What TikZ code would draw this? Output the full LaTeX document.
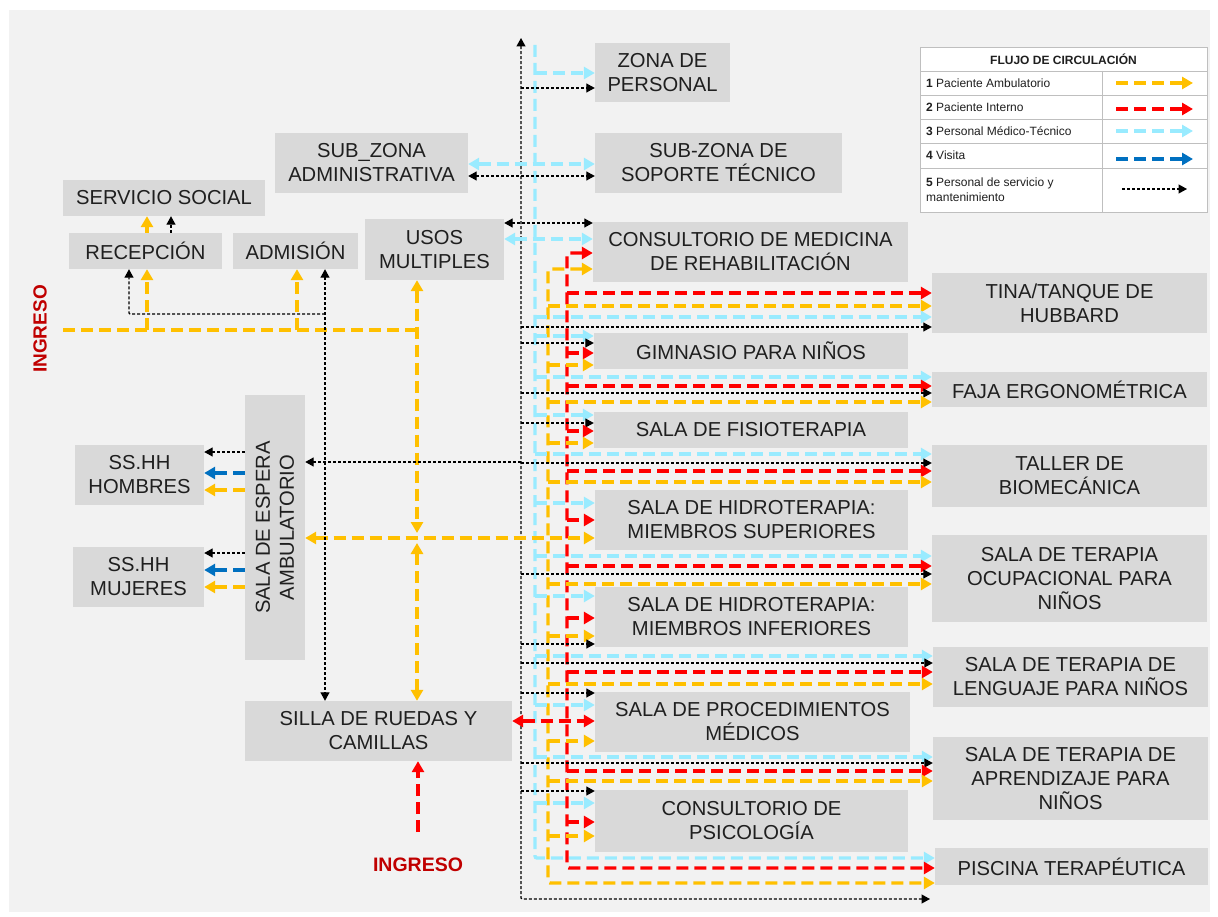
\documentclass[tikz,border=0pt]{standalone}
\usepackage{fontspec}
\setmainfont{Liberation Sans}
\usetikzlibrary{arrows.meta}
\definecolor{bg}{HTML}{F2F2F2}
\definecolor{boxg}{HTML}{D9D9D9}
\definecolor{txt}{HTML}{1F1F1F}
\definecolor{yel}{HTML}{FFC000}
\definecolor{rdc}{HTML}{FF0000}
\definecolor{cyn}{HTML}{99EBFF}
\definecolor{blu}{HTML}{0070C0}
\definecolor{ingc}{HTML}{C00000}
\definecolor{legl}{HTML}{BFBFBF}
\newcommand\bxfont{\fontsize{20.2}{24}\selectfont}
\newcommand\lgfont{\fontsize{12}{15}\selectfont}
\begin{document}
\begin{tikzpicture}[x=1pt,y=-1pt,
  box/.style={fill=boxg, inner sep=0pt, align=center, text=txt, font=\bxfont},
  flowline/.style={line width=3.4pt, dash pattern=on 12pt off 6pt, rounded corners=2pt, >={Triangle[length=11pt,width=12pt]}},
  yl/.style={flowline, draw=yel},
  rd/.style={flowline, draw=rdc},
  cy/.style={flowline, draw=cyn},
  bl/.style={flowline, draw=blu},
  bk/.style={line width=1.3pt, dash pattern=on 3pt off 2pt, draw=black, rounded corners=1pt, >={Triangle[length=8.5pt,width=9pt]}},
  lgtxt/.style={anchor=west, inner sep=0pt, text=txt, font=\lgfont, align=left}
]
\useasboundingbox (0,0) rectangle (1218,917);
\fill[white] (0,0) rectangle (1218,917);
\fill[bg] (9,10) rectangle (1210,912);

% boxes
\node[box, minimum width=135pt, minimum height=59pt] (zona) at (662.5,72.5) {ZONA DE\\PERSONAL};
\node[box, minimum width=247pt, minimum height=60pt] (soporte) at (718.5,163) {SUB-ZONA DE\\SOPORTE TÉCNICO};
\node[box, minimum width=193pt, minimum height=60pt] (admin) at (371.5,163) {SUB\_ZONA\\ADMINISTRATIVA};
\node[box, minimum width=202pt, minimum height=36pt] (social) at (164,198) {SERVICIO SOCIAL};
\node[box, minimum width=153pt, minimum height=36pt] (recep) at (145.5,251) {RECEPCIÓN};
\node[box, minimum width=125pt, minimum height=36pt] (admis) at (295.5,251) {ADMISIÓN};
\node[box, minimum width=139pt, minimum height=61pt] (usos) at (434.5,249.5) {USOS\\MULTIPLES};
\node[box, minimum width=315pt, minimum height=60pt] (consult) at (750.5,252) {CONSULTORIO DE MEDICINA\\DE REHABILITACIÓN};
\node[box, minimum width=314pt, minimum height=36pt] (gimn) at (751,351) {GIMNASIO PARA NIÑOS};
\node[box, minimum width=314pt, minimum height=36pt] (fisio) at (751,430) {SALA DE FISIOTERAPIA};
\node[box, minimum width=313pt, minimum height=60pt] (hsup) at (751.5,520) {SALA DE HIDROTERAPIA:\\MIEMBROS SUPERIORES};
\node[box, minimum width=313pt, minimum height=60pt] (hinf) at (751.5,617) {SALA DE HIDROTERAPIA:\\MIEMBROS INFERIORES};
\node[box, minimum width=315pt, minimum height=60pt] (proc) at (752.5,722) {SALA DE PROCEDIMIENTOS\\MÉDICOS};
\node[box, minimum width=313pt, minimum height=62pt] (psico) at (751.5,821) {CONSULTORIO DE\\PSICOLOGÍA};
\node[box, minimum width=275pt, minimum height=60pt] (tina) at (1069.5,303) {TINA/TANQUE DE\\HUBBARD};
\node[box, minimum width=275pt, minimum height=35pt] (faja) at (1069.5,389.5) {FAJA ERGONOMÉTRICA};
\node[box, minimum width=275pt, minimum height=62pt] (taller) at (1069.5,476) {TALLER DE\\BIOMECÁNICA};
\node[box, minimum width=275pt, minimum height=87pt] (ocup) at (1069.5,578.5) {SALA DE TERAPIA\\OCUPACIONAL PARA\\NIÑOS};
\node[box, minimum width=275pt, minimum height=60pt] (leng) at (1070.5,677) {SALA DE TERAPIA DE\\LENGUAJE PARA NIÑOS};
\node[box, minimum width=275pt, minimum height=83pt] (apren) at (1070.5,778.5) {SALA DE TERAPIA DE\\APRENDIZAJE PARA\\NIÑOS};
\node[box, minimum width=273pt, minimum height=37pt] (pisc) at (1071.5,866.5) {PISCINA TERAPÉUTICA};
\node[box, minimum width=129pt, minimum height=60pt] (hom) at (139.5,475) {SS.HH\\HOMBRES};
\node[box, minimum width=131pt, minimum height=60pt] (muj) at (138.5,577) {SS.HH\\MUJERES};
\node[box, minimum width=60pt, minimum height=265pt] (espera) at (275,527.5) {};
\node[rotate=90, align=center, text=txt, font=\bxfont, inner sep=0pt] (esperat) at (espera.center) {SALA DE ESPERA\\AMBULATORIO};
\node[box, minimum width=267pt, minimum height=60pt] (silla) at (378.5,731) {SILLA DE RUEDAS Y\\CAMILLAS};

% ingreso labels
\node[rotate=90, font=\fontsize{19}{22}\selectfont\bfseries, text=ingc, inner sep=0pt] (ing1) at (40,329) {INGRESO};
\node[font=\fontsize{19.5}{22}\selectfont\bfseries, text=ingc, inner sep=0pt] (ing2) at (418,865) {INGRESO};

% spines
\coordinate (bktop) at (521,38);
\coordinate (cytop) at (535,45);
\draw[bk,<->] (bktop) -- (521,899) -- (930,899);
\draw[cy,->] (cytop) -- (535,858) -- (pisc.west |- 0,858);
\draw[yl,<->] (consult.west |- 0,269) -- (548,269) -- (548,883) -- (pisc.west |- 0,883);
\draw[rd,<->] (consult.west |- 0,253) -- (567,253) -- (567,868) -- (pisc.west |- 0,868);

% zona de personal
\draw[cy,->] (535,73) -- (zona.west |- 0,73);
\draw[bk,->] (521,88) -- (zona.west |- 0,88);
% soporte / admin
\draw[cy,<->] (admin.east |- 0,164) -- (soporte.west |- 0,164);
\draw[bk,<->] (admin.east |- 0,176) -- (soporte.west |- 0,176);
% usos / consultorio
\draw[bk,<->] (usos.east |- 0,223) -- (consult.west |- 0,223);
\draw[cy,<->] (usos.east |- 0,239) -- (consult.west |- 0,239);

% tina
\draw[rd,->] (567,293) -- (tina.west |- 0,293);
\draw[yl,->] (548,306) -- (tina.west |- 0,306);
\draw[cy,->] (535,317) -- (tina.west |- 0,317);
\draw[bk,->] (521,327) -- (tina.west |- 0,327);
% gimnasio
\draw[cy,->] (535,336) -- (gimn.west |- 0,336);
\draw[bk,->] (521,343) -- (gimn.west |- 0,343);
\draw[rd,->] (567,353) -- (gimn.west |- 0,353);
\draw[yl,->] (548,365) -- (gimn.west |- 0,365);
% faja
\draw[cy,->] (535,377) -- (faja.west |- 0,377);
\draw[rd,->] (567,386) -- (faja.west |- 0,386);
\draw[bk,->] (521,393) -- (faja.west |- 0,393);
\draw[yl,->] (548,402) -- (faja.west |- 0,402);
% fisioterapia
\draw[cy,->] (535,415) -- (fisio.west |- 0,415);
\draw[bk,->] (521,423) -- (fisio.west |- 0,423);
\draw[rd,->] (567,431) -- (fisio.west |- 0,431);
\draw[yl,->] (548,443) -- (fisio.west |- 0,443);
% taller
\draw[cy,->] (535,454) -- (taller.west |- 0,454);
\draw[bk,->] (521,463) -- (taller.west |- 0,463);
\draw[rd,->] (567,471) -- (taller.west |- 0,471);
\draw[yl,->] (548,482) -- (taller.west |- 0,482);
% hidro sup
\draw[cy,->] (535,503) -- (hsup.west |- 0,503);
\draw[rd,->] (567,520) -- (hsup.west |- 0,520);
\draw[yl,<->] (espera.east |- 0,538) -- (hsup.west |- 0,538);
% ocupacional
\draw[cy,->] (535,556) -- (ocup.west |- 0,556);
\draw[rd,->] (567,566) -- (ocup.west |- 0,566);
\draw[bk,->] (521,574) -- (ocup.west |- 0,574);
\draw[yl,->] (548,584) -- (ocup.west |- 0,584);
% hidro inf
\draw[cy,->] (535,596) -- (hinf.west |- 0,596);
\draw[rd,->] (567,618) -- (hinf.west |- 0,618);
\draw[yl,->] (548,636) -- (hinf.west |- 0,636);
\draw[bk,->] (521,644) -- (hinf.west |- 0,644);
% lenguaje
\draw[cy,->] (535,656) -- (leng.west |- 0,656);
\draw[bk,->] (521,663) -- (leng.west |- 0,663);
\draw[rd,->] (567,672) -- (leng.west |- 0,672);
\draw[yl,->] (548,684) -- (leng.west |- 0,684);
% procedimientos
\draw[bk,->] (521,693) -- (proc.west |- 0,693);
\draw[cy,->] (535,705) -- (proc.west |- 0,705);
\draw[rd,<->] (silla.east |- 0,721) -- (proc.west |- 0,721);
\draw[yl,->] (548,741) -- (proc.west |- 0,741);
% aprendizaje
\draw[cy,->] (535,757) -- (apren.west |- 0,757);
\draw[bk,->] (521,763) -- (apren.west |- 0,763);
\draw[rd,->] (567,771) -- (apren.west |- 0,771);
\draw[yl,->] (548,781) -- (apren.west |- 0,781);
% psicologia
\draw[bk,->] (521,791) -- (psico.west |- 0,791);
\draw[cy,->] (535,803) -- (psico.west |- 0,803);
\draw[rd,->] (567,822) -- (psico.west |- 0,822);
\draw[yl,->] (548,836) -- (psico.west |- 0,836);

% left part
\coordinate (ingL) at (63,330);
\draw[yl] (ingL) -- (417,330);
\draw[yl,->] (147,330) -- (recep.south -| 147,0);
\draw[yl,->] (297,330) -- (admis.south -| 297,0);
\draw[yl,<->] (usos.south -| 417,0) -- (417,533);
\draw[yl,<->] (417,543) -- (silla.north -| 417,0);
\draw[bk,->] (325,314) -- (129,314) -- (recep.south -| 129,0);
\draw[bk,<->] (admis.south -| 325,0) -- (silla.north -| 325,0);
\draw[bk,->] (521,462) -- (espera.east |- 0,462);
\draw[yl,->] (recep.north -| 147,0) -- (social.south -| 147,0);
\draw[bk,->] (recep.north -| 171,0) -- (social.south -| 171,0);
% sshh
\draw[bk,->] (espera.west |- 0,452) -- (hom.east |- 0,452);
\draw[bl,->] (espera.west |- 0,473) -- (hom.east |- 0,473);
\draw[yl,->] (espera.west |- 0,490) -- (hom.east |- 0,490);
\draw[bk,->] (espera.west |- 0,553) -- (muj.east |- 0,553);
\draw[bl,->] (espera.west |- 0,570) -- (muj.east |- 0,570);
\draw[yl,->] (espera.west |- 0,587) -- (muj.east |- 0,587);
% ingreso bottom
\coordinate (ingB) at (418,832);
\draw[rd,->] (ingB) -- (silla.south -| 418,0);

% legend
\draw[legl, fill=white, line width=0.8pt] (920,47) rectangle (1207,212);
\foreach \yy in {71,95,119,143,168} \draw[legl, line width=0.8pt] (920,\yy) -- (1207,\yy);
\draw[legl, line width=0.8pt] (1102,71) -- (1102,212);
\node[font=\lgfont\bfseries, text=txt, inner sep=0pt] (lgh) at (1063.5,59) {FLUJO DE CIRCULACIÓN};
\node[lgtxt] (lg1) at (926,83) {\textbf{1} Paciente Ambulatorio};
\node[lgtxt] (lg2) at (926,107) {\textbf{2} Paciente Interno};
\node[lgtxt] (lg3) at (926,131) {\textbf{3} Personal Médico-Técnico};
\node[lgtxt] (lg4) at (926,155) {\textbf{4} Visita};
\node[lgtxt] (lg5) at (926,189.5) {\textbf{5} Personal de servicio y\\mantenimiento};
\coordinate (l1a) at (1116,83); \coordinate (l1b) at (1193,83);
\coordinate (l2a) at (1116,109); \coordinate (l2b) at (1193,109);
\coordinate (l3a) at (1116,131); \coordinate (l3b) at (1193,131);
\coordinate (l4a) at (1116,159); \coordinate (l4b) at (1193,159);
\coordinate (l5a) at (1122,189); \coordinate (l5b) at (1187,189);
\draw[yl,->] (l1a) -- (l1b);
\draw[rd,->] (l2a) -- (l2b);
\draw[cy,->] (l3a) -- (l3b);
\draw[bl,->] (l4a) -- (l4b);
\draw[bk,->] (l5a) -- (l5b);
\end{tikzpicture}
\end{document}
